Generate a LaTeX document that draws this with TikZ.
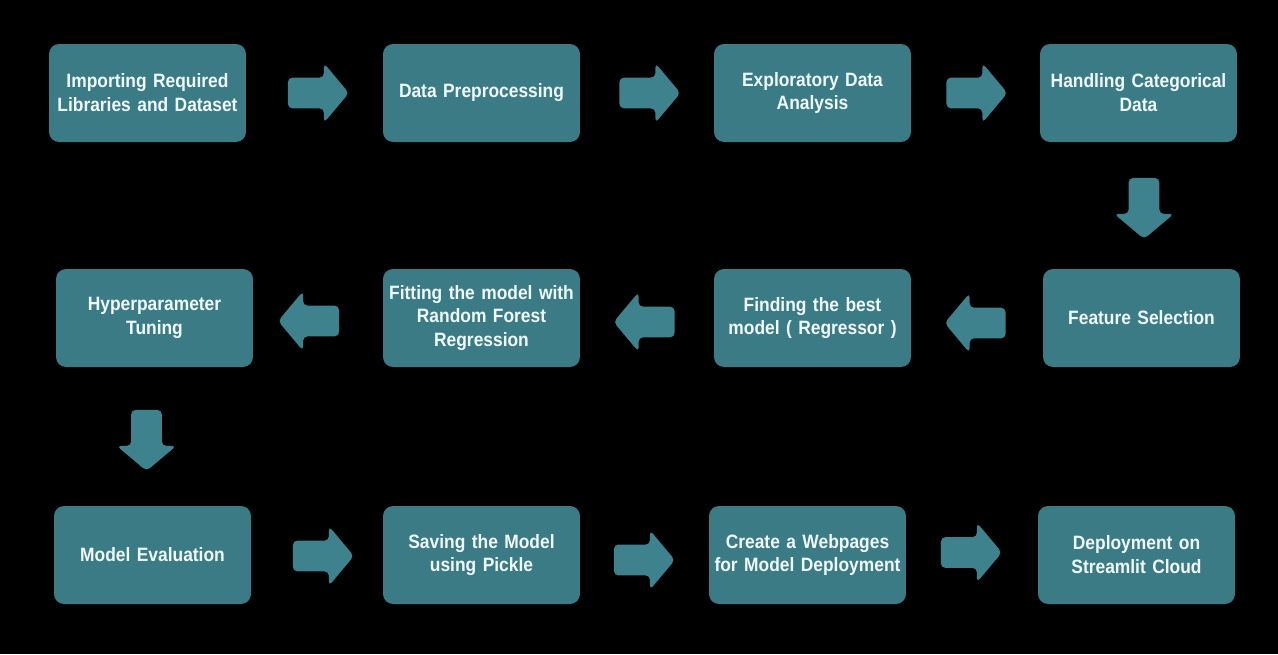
\documentclass[tikz,border=0pt]{standalone}
\usepackage{fontspec}
\setmainfont{Liberation Sans}[FakeStretch=0.9,WordSpace=0.65]
\usetikzlibrary{shapes.arrows,calc}

\definecolor{stageteal}{RGB}{59,123,134}
\definecolor{flowteal}{RGB}{61,130,141}
\definecolor{stagetext}{RGB}{240,250,250}

\begin{document}
\begin{tikzpicture}[x=0.02cm,y=-0.02cm,
  stage/.style={fill=stageteal,rounded corners=0.2cm,minimum width=3.94cm,minimum height=1.96cm,
                text width=3.9cm,align=center,inner sep=0pt,text=stagetext,
                font=\bfseries\fontsize{11}{13.6}\selectfont},
  flow/.style={single arrow,fill=flowteal,inner sep=0.3cm,minimum height=1.22cm,
               single arrow head extend=0.29cm,single arrow tip angle=100,rounded corners=2.5pt}]

  \pgfmathsetmacro\rowa{93}
  \pgfmathsetmacro\rowb{318}
  \pgfmathsetmacro\rowc{555}

% background
  \fill[black] (0,0) rectangle (1278,654);

% first row
  \node[stage] (imp)  at (147.5,\rowa)  {Importing Required\\Libraries and Dataset};
  \node[stage] (pre)  at (481.5,\rowa)  {Data Preprocessing};
  \node[stage] (eda)  at (812.5,\rowa)  {Exploratory Data\\Analysis};
  \node[stage] (cat)  at (1138.5,\rowa) {Handling Categorical\\Data};

% second row
  \node[stage] (hyp)  at (154.5,\rowb)  {Hyperparameter\\Tuning};
  \node[stage] (fit)  at (481.5,\rowb)  {Fitting the model with\\Random Forest\\Regression};
  \node[stage] (best) at (812.5,\rowb)  {Finding the best\\model ( Regressor )};
  \node[stage] (feat) at (1141.5,\rowb) {Feature Selection};

% third row
  \node[stage] (eval) at (152.5,\rowc)  {Model Evaluation};
  \node[stage] (save) at (481.5,\rowc)  {Saving the Model\\using Pickle};
  \node[stage] (web)  at (807.5,\rowc)  {Create a Webpages\\for Model Deployment};
  \node[stage] (dep)  at (1136.5,\rowc) {Deployment on\\Streamlit Cloud};

% block arrows
  \node[flow] (a1) at ($(imp.east)!0.5!(pre.west)+(-2.5,0)$) {};
  \node[flow] (a2) at ($(pre.east)!0.5!(eda.west)+(-3.5,0)$) {};
  \node[flow] (a3) at ($(eda.east)!0.5!(cat.west)+(-5,0)$) {};
  \node[flow,shape border rotate=270] (a4) at ($(cat.south)!0.5!(feat.north)+(4,-3.5)$) {};
  \node[flow,shape border rotate=180] (a5) at ($(best.east)!0.5!(feat.west)+(4.5,5)$) {};
  \node[flow,shape border rotate=180] (a6) at ($(fit.east)!0.5!(best.west)+(3.5,4)$) {};
  \node[flow,shape border rotate=180] (a7) at ($(hyp.east)!0.5!(fit.west)+(-3,3)$) {};
  \node[flow,shape border rotate=270] (a8) at ($(hyp.south)!0.5!(eval.north)+(-7,-2.5)$) {};
  \node[flow] (a9)  at ($(eval.east)!0.5!(save.west)+(0,1)$) {};
  \node[flow] (a10) at ($(save.east)!0.5!(web.west)+(-6.5,5)$) {};
  \node[flow] (a11) at ($(web.east)!0.5!(dep.west)+(-7,-2.5)$) {};

\end{tikzpicture}
\end{document}
